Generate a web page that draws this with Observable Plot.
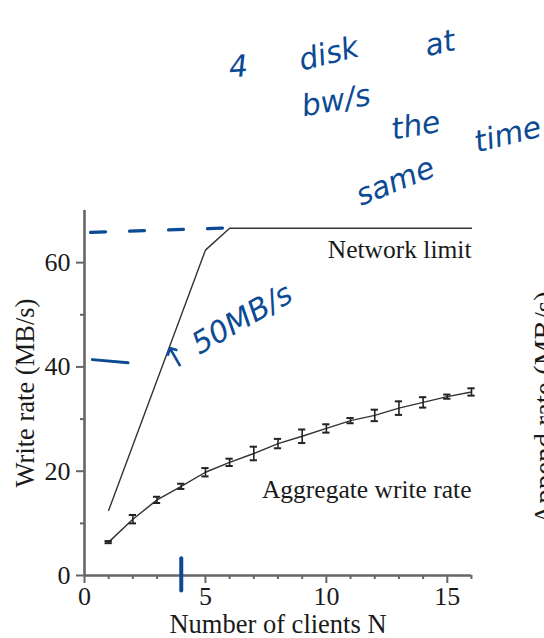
<!DOCTYPE html>
<html>
<head>
<meta charset="utf-8">
<script src="https://cdn.jsdelivr.net/npm/d3@7"></script>
<script src="https://cdn.jsdelivr.net/npm/@observablehq/plot@0.6"></script>
<style>
  html, body { margin: 0; padding: 0; background: #fff; overflow: hidden; }
  #chart svg { overflow: hidden; display: block; }
</style>
</head>
<body>
<div id="chart"></div>
<script>
// ---- data ----
const clients = [1, 2, 3, 4, 5, 6, 7, 8, 9, 10, 11, 12, 13, 14, 15, 16];
const aggregateRate = [6.4, 10.8, 14.5, 17.1, 19.8, 21.7, 23.4, 25.3, 26.7, 28.2, 29.7, 30.7, 32.1, 33.2, 34.3, 35.2];
const aggregateErr = [0.2, 0.8, 0.6, 0.5, 0.8, 0.7, 1.3, 0.9, 1.3, 0.8, 0.5, 1.1, 1.3, 1.0, 0.4, 0.7];
const networkClients = [1, 5, 6, 16];
const networkRate = [12.5, 62.4, 66.6, 66.6];
const yMajorTicks = [0, 20, 40, 60];
const yMinorTicks = [10, 30, 50];
const xMajorTicks = [0, 5, 10, 15];
const xMinorTicks = [1, 2, 3, 4, 6, 7, 8, 9, 11, 12, 13, 14, 16];
const seriesLabels = [
  {text: "Network limit", x: 16, y: 60.8},
  {text: "Aggregate write rate", x: 16, y: 14.9}
];
// handwritten notes (in data coordinates)
const notes = [
  {text: "4", x: 6.36, y: 97.5, rotate: -5},
  {text: "disk", x: 10.1, y: 100.0, rotate: -14},
  {text: "at", x: 14.7, y: 102.0, rotate: -12},
  {text: "bw/s", x: 10.4, y: 91.0, rotate: -10},
  {text: "the", x: 13.7, y: 86.2, rotate: -10},
  {text: "same", x: 12.85, y: 75.5, rotate: -22},
  {text: "time", x: 17.5, y: 84.5, rotate: -14},
  {text: "↑ 50MB/s", x: 5.9, y: 47.5, rotate: -30}
];
const noteDash = [{x: 0.25, y: 65.8}, {x: 6.2, y: 66.7}];
const noteMark40 = [{x: 0.33, y: 41.4}, {x: 1.8, y: 40.8}];
const noteMark4 = [{x: 4.0, y: 3.3}, {x: 4.0, y: -2.9}];

// ---- tables ----
const aggregate = clients.map((n, i) => ({n, rate: aggregateRate[i], lo: aggregateRate[i] - aggregateErr[i], hi: aggregateRate[i] + aggregateErr[i]}));
const network = networkClients.map((n, i) => ({n, rate: networkRate[i]}));

const ink = "#1a1a1a";
const axisGray = "#666";
const blue = "#0c4a94";
const capHalf = 0.15;

const plot = Plot.plot({
  width: 544,
  height: 638,
  marginLeft: 84,
  marginRight: 73,
  marginTop: 210,
  marginBottom: 63,
  style: {fontFamily: "'Liberation Serif', 'Times New Roman', serif", fontSize: "26px", color: ink, background: "#fff"},
  x: {domain: [0, 16]},
  y: {domain: [0, 70]},
  marks: [
    // axes
    Plot.axisY({ticks: yMajorTicks, tickSize: 8, tickPadding: 6, label: null, stroke: axisGray, strokeWidth: 2, fill: ink, tickFormat: d => String(d)}),
    Plot.axisY({ticks: yMinorTicks, tickSize: 4, text: null, label: null, stroke: axisGray, strokeWidth: 2}),
    Plot.axisX({ticks: xMajorTicks, tickSize: 8, tickPadding: 3, label: null, stroke: axisGray, strokeWidth: 2, fill: ink, tickFormat: d => String(d)}),
    Plot.axisX({ticks: xMinorTicks, tickSize: 4, text: null, label: null, stroke: axisGray, strokeWidth: 2}),
    Plot.ruleX([0], {y1: 0, y2: 70, stroke: axisGray, strokeWidth: 2.6}),
    Plot.ruleY([0], {x1: 0, x2: 16, stroke: axisGray, strokeWidth: 2.6}),
    // axis labels
    Plot.text(["Write rate (MB/s)"], {frameAnchor: "left", dx: -51, rotate: -90, lineAnchor: "bottom", textAnchor: "middle", fontSize: 26.5, fill: ink}),
    Plot.text(["Number of clients N"], {frameAnchor: "bottom", dy: 57, lineAnchor: "bottom", textAnchor: "middle", fontSize: 26.5, fill: ink}),
    Plot.text(["Append rate (MB/s)"], {frameAnchor: "right", dx: 62, dy: 15, rotate: -90, lineAnchor: "top", textAnchor: "middle", fontSize: 29, fill: ink}),
    // network limit
    Plot.line(network, {x: "n", y: "rate", stroke: "#333", strokeWidth: 1.4}),
    // aggregate write rate
    Plot.line(aggregate, {x: "n", y: "rate", stroke: "#333", strokeWidth: 1.4}),
    Plot.ruleX(aggregate, {x: "n", y1: "lo", y2: "hi", stroke: "#222", strokeWidth: 1.6}),
    Plot.ruleY(aggregate, {x1: d => d.n - capHalf, x2: d => d.n + capHalf, y: "lo", stroke: "#222", strokeWidth: 2}),
    Plot.ruleY(aggregate, {x1: d => d.n - capHalf, x2: d => d.n + capHalf, y: "hi", stroke: "#222", strokeWidth: 2}),
    // series labels
    Plot.text(seriesLabels, {x: "x", y: "y", text: "text", textAnchor: "end", lineAnchor: "bottom", fontSize: 25.5, fill: ink}),
    // handwritten notes
    Plot.line(noteDash, {x: "x", y: "y", stroke: blue, strokeWidth: 3.2, strokeDasharray: "15,24", strokeLinecap: "round", clip: false}),
    Plot.line(noteMark40, {x: "x", y: "y", stroke: blue, strokeWidth: 3, strokeLinecap: "round", clip: false}),
    Plot.line(noteMark4, {x: "x", y: "y", stroke: blue, strokeWidth: 4, strokeLinecap: "round", clip: false}),
    Plot.text(notes, {x: "x", y: "y", text: "text", rotate: "rotate", fill: blue, fontSize: 30, fontStyle: "italic", fontFamily: "'DejaVu Sans', sans-serif", textAnchor: "middle", lineAnchor: "middle", clip: false})
  ]
});
document.getElementById("chart").appendChild(plot);
</script>
</body>
</html>
